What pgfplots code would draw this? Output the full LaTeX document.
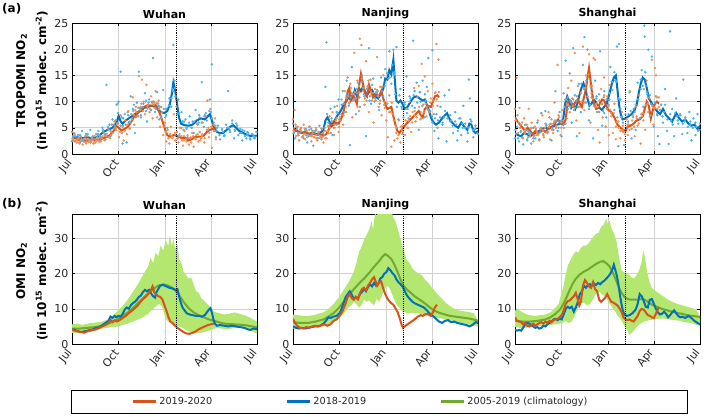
\documentclass[border=0pt]{standalone}
\usepackage{pgfplots}
\pgfplotsset{compat=1.18}
\usepackage{fontspec}
\setmainfont{DejaVu Sans}
\definecolor{cred}{RGB}{217,83,25}
\definecolor{cblue}{RGB}{0,114,189}
\definecolor{sred}{RGB}{243,140,82}
\definecolor{sblue}{RGB}{70,178,238}
\definecolor{cgreen}{RGB}{112,168,48}
\definecolor{bgreen}{RGB}{180,231,112}
\definecolor{txt}{RGB}{38,38,38}
\pgfplotsset{
  panel/.style={
    scale only axis, width=185pt, height=131pt,
    xmin=0, xmax=365,
    xtick={0,92,184,274,365},
    xticklabels={Jul,Oct,Jan,Apr,Jul},
    xticklabel shift=4pt,
    x tick label style={rotate=52, anchor=east, font=\fontsize{11}{12}\selectfont, text=txt},
    y tick label style={font=\fontsize{11}{12}\selectfont, text=txt},
    tick align=inside,
    major tick length=3pt,
    tick style={black, line width=0.6pt},
    grid=major,
    major grid style={black!18, line width=0.7pt},
    axis line style={black, line width=0.9pt},
    title style={font=\bfseries\fontsize{11}{12}\selectfont, yshift=-5pt},
    /pgf/number format/assume math mode=true,
    ylabel style={align=center, font=\bfseries\fontsize{12}{21}\selectfont, at={(ticklabel cs:0.56)}},
  },
  toprow/.style={panel, ymin=0, ymax=25, ytick={0,5,10,15,20,25}},
  botrow/.style={panel, height=130pt, ymin=0, ymax=37, ytick={0,10,20,30}},
  sc/.style={only marks, mark=*, mark size=1.0pt, forget plot},
  bl/.style={cblue, line width=2pt, forget plot},
  rl/.style={cred, line width=2pt, forget plot},
  gl/.style={cgreen, line width=2pt, forget plot},
  band/.style={fill=bgreen, draw=none, forget plot},
  lock/.style={black, densely dotted, line width=0.9pt, forget plot},
}
\begin{document}
\begin{tikzpicture}
\useasboundingbox (0,0) rectangle (709pt,416pt);
%================ (a) Wuhan TROPOMI
\begin{axis}[toprow, at={(72pt,262pt)}, anchor=south west, title={Wuhan},
  ylabel={TROPOMI NO\textsubscript{2}\\(in 10\textsuperscript{15} molec. cm\textsuperscript{-2})}]
\addplot[sc, sblue, mark options={fill=sblue, draw=sblue}] coordinates {
(0,2.4)(4,4.0)(8,2.6)(12,3.6)(16,2.2)(20,4.4)(24,2.8)(28,3.8)(32,2.4)(36,4.6)(40,3.0)(44,2.2)(48,3.8)(52,4.4)(56,2.6)(60,5.0)(64,3.6)(68,13.2)(72,4.8)(76,3.4)(80,6.6)(84,5.4)(88,9.4)(92,10.0)(96,15.7)(100,2.0)(104,7.6)(108,2.2)(112,6.0)(116,11.0)(120,8.6)(124,4.0)(128,9.8)(132,15.7)(136,7.0)(140,9.0)(144,11.6)(148,6.2)(152,10.4)(156,8.4)(160,18.3)(164,8.0)(168,11.8)(172,6.6)(176,9.0)(180,12.2)(184,7.0)(188,5.0)(192,10.6)(196,9.0)(200,20.8)(204,11.0)(208,7.6)(212,3.4)(216,8.0)(220,4.6)(224,6.6)(228,3.2)(232,7.2)(236,5.0)(240,4.0)(244,8.4)(248,5.6)(252,7.0)(256,13.7)(260,5.2)(264,7.8)(268,4.6)(272,10.4)(276,17.1)(280,6.0)(284,3.2)(288,5.4)(292,2.8)(296,4.8)(300,3.4)(304,5.6)(308,12.0)(312,4.2)(316,6.4)(320,3.0)(324,5.8)(328,3.6)(332,4.8)(336,2.6)(340,4.4)(344,3.0)(348,4.0)(352,2.8)(356,3.8)(360,3.0)(364,4.2)
(2,3.4)(14,3.0)(26,3.4)(38,2.6)(50,3.2)(62,4.2)(74,5.6)(86,6.4)(98,7.0)(110,8.0)(122,9.4)(134,8.8)(146,10.2)(158,9.8)(170,9.6)(186,8.6)(198,12.4)(202,14.0)(210,10.4)(218,6.2)(226,5.0)(238,6.2)(250,6.0)(262,7.4)(274,8.0)(286,4.4)(298,4.2)(310,5.0)(322,4.4)(334,4.0)(346,3.6)(358,3.4)
(1,2.6)(6,3.4)(11,2.8)(16,3.6)(21,2.6)(26,3.0)(31,3.8)(36,2.6)(41,3.4)(46,2.8)(51,3.8)(56,3.2)(61,4.6)(66,3.8)(71,5.2)(76,4.4)(81,5.6)(86,5.0)(91,7.8)(96,5.4)(101,6.8)(106,5.6)(111,7.4)(116,6.0)(121,8.2)(126,7.0)(131,8.8)(136,7.4)(141,9.6)(146,8.2)(151,9.8)(156,8.4)(161,10.0)(166,8.6)(171,9.2)(176,7.2)(181,8.6)(186,7.4)(191,9.2)(196,10.6)(199,12.0)(203,12.6)(206,9.0)(211,7.8)(216,5.0)(221,6.2)(226,4.8)(231,6.0)(236,5.0)(241,6.2)(246,5.8)(251,7.4)(256,6.0)(261,7.2)(266,6.4)(271,8.2)(276,6.8)(281,4.4)(286,5.0)(291,3.6)(296,4.6)(301,3.6)(306,5.0)(311,4.6)(316,5.8)(321,4.6)(326,5.4)(331,4.0)(336,4.6)(341,3.4)(346,4.2)(351,3.0)(356,3.8)(361,3.2)
};
\addplot[sc, sred, mark options={fill=sred, draw=sred}] coordinates {
(0,4.2)(3,2.8)(6,3.6)(9,2.2)(12,3.0)(15,2.0)(18,3.3)(21,1.8)(24,2.9)(27,2.2)(30,3.4)(33,2.3)(36,2.6)(39,3.1)(42,2.0)(45,3.4)(48,2.5)(51,2.9)(54,3.6)(57,2.4)(60,3.3)(63,4.0)(66,2.8)(69,3.9)(72,4.6)(75,3.0)(78,5.6)(81,4.0)(84,6.2)(87,4.6)(90,9.6)(93,3.2)(96,7.4)(99,4.0)(102,2.6)(105,6.4)(108,3.8)(111,8.2)(114,4.8)(117,7.6)(120,10.8)(123,5.6)(126,9.0)(129,7.2)(132,14.9)(135,8.4)(138,14.2)(141,10.0)(144,7.6)(147,13.2)(150,9.4)(153,8.0)(156,11.0)(159,6.8)(162,9.8)(165,12.0)(168,7.0)(171,10.2)(174,5.2)(177,8.0)(180,3.6)(183,6.0)(186,2.4)(189,4.6)(192,2.0)(195,5.2)(198,3.0)(201,7.6)(204,2.6)(207,4.2)(210,2.2)(213,5.0)(216,3.4)(219,1.6)(222,4.4)(225,2.8)(228,3.6)(231,1.8)(234,3.2)(237,4.0)(240,1.4)(243,3.0)(246,5.8)(249,2.4)(252,4.2)(255,3.0)(258,6.0)(261,2.2)(264,7.2)(267,10.2)(270,3.2)(273,8.6)(276,1.2)(279,5.6)(282,6.8)(284,2.8)
(5,2.4)(17,2.6)(29,2.8)(41,2.6)(53,2.4)(65,3.4)(77,3.6)(89,5.8)(101,5.4)(113,6.2)(125,8.4)(137,9.6)(149,8.6)(161,9.4)(173,9.0)(185,4.0)(197,3.4)(209,3.0)(221,2.6)(233,3.0)(245,3.6)(257,3.4)(269,5.0)(281,4.4)
(1,3.0)(5,3.8)(10,2.6)(14,2.2)(19,2.8)(23,2.4)(28,2.0)(32,2.8)(37,2.2)(41,2.8)(46,2.2)(50,3.2)(55,2.4)(59,3.0)(64,2.6)(68,3.4)(73,3.2)(77,4.2)(82,4.8)(86,5.0)(91,5.8)(95,4.2)(100,5.2)(104,4.4)(109,5.6)(113,5.0)(118,6.6)(122,7.4)(127,8.0)(131,7.2)(136,9.0)(140,8.2)(145,10.0)(149,9.0)(154,8.6)(158,10.0)(163,8.8)(167,9.8)(172,8.6)(176,6.8)(181,5.2)(185,4.2)(190,3.0)(194,3.8)(199,3.2)(203,4.0)(208,3.0)(212,3.8)(217,2.6)(221,3.4)(226,2.4)(230,3.0)(235,2.2)(239,3.4)(244,2.8)(248,3.8)(253,2.6)(257,3.8)(262,3.0)(266,4.6)(271,4.0)(275,5.2)(280,4.4)(283,5.4)
};
\addplot[bl] coordinates {(0,3.0)(10,3.2)(20,3.0)(30,3.2)(40,3.0)(50,3.3)(55,3.6)(62,4.2)(70,4.6)(80,5.0)(88,6.0)(92,7.3)(96,6.2)(100,5.8)(106,6.4)(112,6.8)(118,7.2)(124,7.6)(130,8.0)(136,8.2)(142,8.8)(150,9.0)(158,9.2)(165,9.0)(170,8.4)(176,8.0)(182,7.8)(188,8.2)(193,9.5)(197,11.5)(200,13.7)(203,12.5)(207,9.8)(211,7.0)(215,5.8)(222,5.5)(230,5.4)(238,5.6)(246,6.4)(254,6.8)(262,6.6)(268,7.2)(272,7.6)(276,6.4)(280,5.0)(286,4.2)(292,4.0)(298,4.0)(305,4.6)(312,5.2)(318,5.5)(324,5.0)(330,4.4)(338,4.0)(346,3.6)(355,3.4)(365,3.5)};
\addplot[rl] coordinates {(0,3.4)(8,3.0)(15,2.6)(25,2.5)(35,2.6)(45,2.7)(55,2.8)(65,3.1)(75,3.6)(82,4.4)(88,5.3)(92,5.0)(98,4.5)(104,4.8)(110,5.2)(116,6.0)(122,7.0)(128,7.6)(134,8.3)(140,8.8)(146,9.2)(152,9.3)(158,9.2)(164,9.4)(168,9.0)(172,8.0)(176,7.0)(180,5.8)(184,4.6)(188,3.6)(194,3.3)(200,3.6)(206,3.5)(212,3.2)(218,3.0)(224,3.1)(230,2.6)(236,2.8)(242,3.2)(248,3.3)(254,3.3)(260,3.5)(266,4.2)(272,4.6)(278,4.8)(284,4.9)};
\addplot[lock] coordinates {(206,0)(206,25)};
\end{axis}
%================ (a) Nanjing TROPOMI
\begin{axis}[toprow, at={(293pt,262pt)}, anchor=south west, title={Nanjing}]
\addplot[sc, sblue, mark options={fill=sblue, draw=sblue}] coordinates {
(0,5.8)(4,3.0)(8,4.8)(12,2.6)(16,5.0)(20,3.4)(24,4.6)(28,2.2)(32,5.2)(36,3.6)(40,1.6)(44,4.4)(48,3.0)(52,5.4)(56,2.8)(60,4.0)(64,12.8)(66,21.3)(70,6.0)(74,8.6)(78,3.6)(82,9.0)(86,5.6)(90,10.4)(94,6.4)(98,12.0)(102,8.0)(106,14.0)(110,9.2)(112,1.7)(116,16.6)(120,11.4)(124,7.6)(128,13.6)(132,9.0)(136,15.0)(140,11.4)(144,3.4)(148,13.0)(150,20.2)(154,9.6)(158,14.4)(162,10.6)(166,12.2)(170,8.4)(174,14.6)(178,11.0)(182,16.2)(186,9.6)(190,19.6)(194,13.4)(198,19.9)(202,11.4)(204,20.4)(208,6.6)(212,12.4)(216,3.8)(220,9.4)(224,14.8)(228,6.8)(232,10.6)(237,21.6)(240,8.8)(244,13.6)(248,4.6)(252,10.0)(256,14.0)(260,7.0)(264,12.8)(267,18.3)(271,8.2)(275,19.8)(279,4.4)(283,7.6)(287,3.0)(291,9.0)(295,5.6)(299,11.2)(303,2.4)(308,12.2)(312,6.4)(316,4.0)(320,8.0)(324,2.6)(328,6.8)(332,3.6)(336,9.2)(340,5.0)(344,2.4)(347,14.2)(349,10.6)(352,6.2)(356,3.2)(360,5.4)(364,4.0)
(2,4.2)(14,4.0)(26,3.6)(38,4.4)(50,3.8)(62,5.0)(76,6.8)(88,7.8)(100,9.6)(114,10.8)(126,11.6)(138,12.6)(152,11.0)(164,11.8)(176,12.0)(188,14.4)(200,15.6)(214,9.0)(226,8.6)(238,11.2)(250,11.8)(262,10.2)(274,7.2)(286,6.4)(298,7.0)(310,6.2)(322,5.6)(334,5.8)(346,5.0)(358,4.6)
(1,4.0)(6,5.2)(11,3.6)(16,4.4)(21,3.0)(26,4.8)(31,3.4)(36,4.8)(41,3.2)(46,4.6)(51,3.0)(56,4.8)(61,3.6)(67,7.6)(71,5.2)(76,6.2)(81,5.0)(86,8.0)(91,6.6)(96,9.4)(101,8.0)(106,11.2)(111,9.6)(116,11.6)(121,10.4)(126,12.4)(131,10.8)(136,13.8)(141,11.0)(146,12.4)(151,10.2)(156,13.2)(161,10.0)(166,11.6)(171,9.6)(176,12.8)(181,13.0)(186,15.4)(191,14.6)(196,17.0)(200,15.2)(205,9.0)(210,11.2)(215,8.6)(220,9.8)(225,7.8)(230,11.0)(235,9.2)(240,12.0)(245,9.8)(250,11.8)(255,9.2)(260,11.4)(265,8.6)(270,8.0)(275,6.0)(280,6.8)(285,5.0)(290,7.0)(295,6.0)(300,8.2)(305,6.8)(310,7.4)(315,5.4)(320,6.2)(325,4.4)(330,6.8)(335,5.0)(340,5.8)(345,4.0)(350,6.6)(355,4.6)(360,4.8)(365,3.8)
};
\addplot[sc, sred, mark options={fill=sred, draw=sred}] coordinates {
(0,6.6)(3,8.4)(6,3.4)(9,5.2)(12,2.6)(15,4.8)(18,3.2)(21,5.6)(24,2.8)(27,4.4)(30,3.6)(33,5.2)(36,2.4)(39,4.0)(42,3.2)(45,5.0)(48,2.6)(51,4.2)(54,3.4)(57,4.8)(60,2.2)(63,4.4)(66,3.0)(69,5.4)(72,7.2)(75,4.0)(78,8.0)(81,3.6)(84,6.4)(87,9.2)(90,4.2)(93,7.0)(96,10.4)(99,5.6)(102,12.0)(105,8.0)(108,14.6)(111,9.8)(114,12.6)(117,7.0)(121,19.3)(124,10.6)(127,14.0)(130,8.2)(132,22.0)(135,20.8)(138,12.0)(141,9.4)(144,17.7)(147,12.8)(150,8.0)(153,14.2)(156,10.2)(159,6.0)(162,12.4)(166,18.5)(169,9.0)(172,12.8)(175,7.4)(178,15.0)(181,10.0)(184,6.4)(187,3.2)(190,11.2)(194,1.4)(197,7.6)(200,2.6)(203,5.4)(206,3.0)(209,6.4)(212,2.2)(215,4.6)(218,7.0)(221,3.6)(224,8.6)(227,5.0)(230,10.0)(233,4.2)(236,8.0)(239,12.6)(242,6.2)(245,10.8)(248,13.0)(251,6.6)(254,17.2)(257,9.4)(260,14.8)(263,7.2)(266,12.0)(269,8.0)(272,10.6)(275,13.4)(278,7.6)(281,11.8)(283,21.0)(285,9.2)(287,18.0)
(10,4.0)(22,3.8)(34,3.4)(46,3.6)(58,3.2)(70,4.0)(82,5.6)(94,6.4)(106,10.6)(118,11.4)(130,13.0)(142,10.6)(154,11.8)(168,11.0)(180,9.4)(192,8.0)(204,4.0)(216,5.4)(228,6.4)(240,7.4)(252,8.0)(264,9.0)(276,10.2)
(1,4.4)(5,5.6)(10,3.6)(14,4.6)(19,3.4)(23,4.8)(28,3.2)(32,4.6)(37,3.4)(41,4.4)(46,3.0)(50,4.2)(55,3.2)(59,4.0)(64,3.0)(68,4.4)(73,5.0)(77,6.2)(82,5.0)(86,6.8)(91,5.2)(95,7.6)(100,7.4)(104,9.0)(109,11.0)(113,13.4)(118,10.2)(122,11.8)(127,9.0)(131,11.8)(136,14.4)(140,12.6)(145,10.2)(149,14.0)(154,11.2)(158,11.6)(163,10.2)(167,12.0)(172,10.2)(176,12.8)(181,8.8)(185,9.6)(190,8.0)(195,9.8)(199,6.4)(204,5.0)(208,3.6)(213,5.2)(217,4.2)(222,6.4)(226,5.0)(231,7.2)(235,6.0)(240,8.2)(244,7.0)(249,9.0)(253,6.8)(258,8.0)(262,9.6)(267,8.4)(271,9.8)(276,9.2)(280,11.6)(284,10.4)(288,11.8)
};
\addplot[bl] coordinates {(0,4.6)(8,4.4)(16,4.0)(24,4.2)(32,3.8)(40,4.0)(48,3.8)(56,4.2)(60,4.6)(64,6.4)(68,7.0)(72,6.2)(76,5.4)(82,6.4)(88,7.4)(94,8.2)(100,9.4)(106,10.2)(110,11.0)(114,10.2)(118,10.8)(122,12.2)(126,11.0)(130,12.6)(134,12.0)(138,12.8)(142,12.0)(146,11.2)(150,11.8)(156,12.2)(162,11.0)(168,10.6)(174,11.6)(178,12.4)(182,14.4)(186,14.2)(190,16.0)(194,15.2)(198,18.0)(201,14.0)(204,10.2)(208,9.8)(212,10.2)(216,9.6)(220,8.6)(226,9.0)(232,10.0)(238,10.8)(244,11.0)(250,10.6)(256,10.2)(260,10.4)(264,9.4)(268,8.4)(272,7.0)(276,6.2)(282,5.6)(288,6.0)(294,6.8)(300,7.4)(304,7.8)(308,6.8)(314,6.0)(320,5.4)(326,5.0)(332,6.0)(338,5.2)(344,4.6)(348,5.8)(352,5.6)(356,4.4)(360,4.0)(365,4.4)};
\addplot[rl] coordinates {(0,5.0)(6,4.4)(12,4.2)(18,4.0)(24,4.2)(30,3.8)(36,4.0)(42,3.8)(48,3.6)(54,3.8)(60,3.5)(66,3.8)(70,4.6)(74,5.6)(78,5.4)(84,6.0)(90,5.8)(96,7.0)(100,8.2)(104,10.0)(108,12.0)(111,12.6)(114,10.4)(118,11.2)(122,10.6)(126,9.6)(130,12.8)(134,15.3)(138,13.4)(142,11.6)(146,11.0)(150,13.2)(154,12.0)(158,10.8)(164,11.4)(170,11.0)(174,12.0)(178,10.6)(182,9.6)(186,8.6)(190,8.8)(194,9.0)(198,7.2)(202,5.6)(206,4.4)(210,4.0)(214,4.6)(218,5.0)(224,5.8)(230,6.4)(236,7.0)(242,7.6)(248,8.2)(252,7.4)(256,7.0)(260,8.6)(266,9.2)(272,9.0)(276,10.0)(280,11.0)(285,11.2)(288,10.8)};
\addplot[lock] coordinates {(217,0)(217,25)};
\end{axis}
%================ (a) Shanghai TROPOMI
\begin{axis}[toprow, at={(515pt,262pt)}, anchor=south west, title={Shanghai}]
\addplot[sc, sblue, mark options={fill=sblue, draw=sblue}] coordinates {
(0,3.0)(4,5.2)(8,2.4)(12,4.4)(16,1.8)(20,5.6)(24,2.6)(28,4.0)(32,2.0)(36,5.0)(40,3.0)(44,6.0)(48,2.8)(52,7.8)(56,3.6)(60,8.2)(64,4.2)(68,7.0)(72,2.6)(76,5.8)(80,12.0)(84,4.4)(88,8.0)(92,3.4)(96,11.6)(100,17.8)(104,8.6)(108,15.4)(112,6.0)(115,20.2)(118,11.2)(122,3.4)(126,13.4)(130,8.0)(134,17.0)(137,22.3)(140,9.8)(143,19.9)(146,6.4)(150,12.6)(154,3.0)(158,14.0)(162,8.0)(166,11.4)(168,19.6)(172,5.4)(176,12.0)(180,7.0)(184,9.4)(188,16.6)(192,12.2)(196,8.4)(201,20.5)(204,1.5)(205,21.0)(208,10.4)(212,4.4)(215,1.7)(218,9.0)(222,5.0)(226,11.8)(230,3.0)(234,8.6)(238,4.6)(242,13.6)(246,6.8)(250,16.0)(253,9.0)(255,24.5)(256,22.4)(260,11.8)(263,19.9)(266,7.2)(270,18.6)(274,5.2)(278,11.0)(282,3.4)(285,1.9)(288,9.4)(292,6.0)(296,12.4)(300,4.4)(303,1.9)(306,23.4)(310,8.6)(314,3.4)(318,10.6)(322,5.8)(326,7.4)(330,3.8)(332,14.2)(336,6.6)(340,4.0)(344,8.0)(348,2.6)(352,6.8)(356,3.6)(360,7.6)(364,4.6)
(2,3.8)(14,3.2)(26,4.4)(38,3.6)(50,4.2)(62,5.4)(74,5.0)(86,6.2)(98,9.0)(110,10.2)(124,9.0)(136,12.6)(148,9.4)(160,10.6)(174,8.2)(186,10.4)(198,14.0)(210,7.0)(224,7.6)(236,8.0)(248,12.4)(258,13.0)(268,9.6)(280,7.6)(294,8.0)(308,6.4)(320,7.2)(334,6.2)(346,5.6)(358,5.2)
(1,4.6)(6,3.0)(11,4.2)(16,3.0)(21,4.6)(26,3.2)(31,4.0)(36,3.0)(41,4.8)(46,3.8)(51,5.0)(56,4.4)(61,5.6)(66,4.2)(71,5.8)(76,4.6)(81,6.2)(86,5.0)(91,6.4)(96,5.6)(101,10.4)(106,9.2)(111,9.8)(116,8.4)(121,10.2)(126,9.0)(131,13.4)(136,12.4)(141,14.0)(146,8.6)(151,10.8)(156,9.2)(161,11.0)(166,8.0)(171,9.6)(176,7.8)(181,10.4)(186,11.6)(191,13.8)(196,15.6)(200,13.8)(204,10.6)(208,8.6)(213,6.0)(218,7.6)(223,6.2)(228,8.2)(233,7.0)(238,9.4)(243,10.4)(248,14.2)(252,13.0)(257,15.6)(261,11.4)(266,11.2)(271,9.2)(276,9.8)(281,7.4)(286,8.4)(291,7.2)(296,9.4)(301,6.6)(306,7.6)(311,5.6)(316,7.8)(321,6.4)(326,7.6)(331,5.8)(336,7.0)(341,5.2)(346,6.2)(351,5.0)(356,6.0)(361,4.4)(365,5.8)
};
\addplot[sc, sred, mark options={fill=sred, draw=sred}] coordinates {
(0,8.6)(3,14.5)(6,4.0)(9,8.8)(12,5.6)(15,3.0)(18,6.8)(21,4.6)(24,2.8)(27,8.6)(30,3.4)(33,6.0)(36,2.4)(39,5.2)(42,3.6)(45,6.4)(48,2.6)(51,4.8)(54,7.4)(57,3.2)(60,5.8)(63,4.2)(66,8.0)(69,2.8)(72,6.6)(75,4.0)(78,9.8)(81,5.0)(84,17.0)(87,7.0)(90,3.6)(93,8.4)(96,5.0)(99,10.4)(102,6.8)(105,12.6)(108,8.0)(111,14.0)(114,9.2)(118,19.3)(121,6.4)(124,13.0)(127,4.0)(130,11.6)(134,20.5)(137,8.4)(140,15.0)(143,11.0)(146,19.0)(149,6.0)(152,13.0)(155,18.3)(158,18.0)(161,9.6)(164,4.6)(167,2.2)(170,12.4)(173,7.0)(176,14.6)(179,5.2)(182,11.0)(185,3.6)(187,13.2)(190,7.8)(193,4.0)(196,9.6)(199,2.8)(202,7.0)(205,5.0)(208,3.0)(211,8.0)(214,4.2)(217,2.6)(220,6.6)(223,3.6)(227,12.0)(230,4.8)(233,7.4)(236,3.4)(239,9.0)(242,5.4)(245,11.2)(248,2.0)(251,7.2)(254,12.4)(257,4.6)(260,14.0)(263,8.0)(266,10.6)(270,18.0)(273,5.6)(276,16.4)(278,15.0)(281,8.6)(284,10.8)
(7,6.0)(19,4.4)(31,4.8)(43,4.2)(55,4.6)(67,5.2)(79,6.4)(91,6.0)(103,9.4)(115,10.4)(128,9.0)(139,12.6)(151,11.6)(163,9.0)(175,10.8)(188,8.4)(200,6.0)(212,4.6)(224,5.6)(240,6.8)(252,7.8)(262,9.6)(274,8.8)
(1,6.4)(5,7.4)(10,5.0)(14,6.0)(19,4.0)(23,5.6)(28,3.8)(32,5.0)(37,3.4)(41,4.8)(46,3.6)(50,4.8)(55,3.8)(59,5.0)(64,4.0)(68,5.6)(73,4.6)(77,6.2)(82,5.4)(86,7.4)(91,5.0)(95,6.4)(100,5.8)(104,10.8)(109,9.0)(113,10.6)(118,8.8)(122,11.0)(127,9.0)(131,10.0)(136,9.8)(140,13.4)(145,15.2)(149,13.0)(154,10.6)(158,9.0)(163,8.0)(167,10.2)(172,9.6)(176,11.2)(181,8.6)(185,9.2)(190,7.2)(195,7.8)(199,5.2)(204,6.2)(208,4.4)(213,5.4)(217,3.8)(222,5.6)(226,4.6)(231,6.4)(235,5.2)(240,7.2)(244,5.8)(249,7.6)(253,6.4)(258,9.4)(262,10.8)(267,7.4)(271,9.2)(276,8.8)(280,10.8)(284,9.0)
};
\addplot[bl] coordinates {(0,4.0)(6,3.6)(12,3.4)(18,4.0)(24,3.8)(30,3.4)(36,3.8)(42,4.2)(48,4.4)(54,4.8)(60,5.0)(66,4.8)(72,5.2)(78,5.4)(84,5.6)(90,5.8)(95,6.6)(99,9.6)(103,11.0)(107,10.0)(111,8.8)(115,9.4)(119,8.6)(123,9.6)(127,11.2)(131,12.6)(135,13.5)(139,12.4)(143,10.6)(147,9.2)(151,9.6)(155,10.4)(159,10.0)(165,9.0)(171,8.4)(176,9.0)(181,9.6)(185,11.0)(190,13.0)(195,14.6)(199,15.0)(202,12.4)(205,9.6)(208,7.8)(212,6.6)(218,6.8)(224,7.2)(230,7.6)(236,8.4)(240,9.4)(244,11.6)(248,13.4)(252,14.6)(256,14.2)(260,12.6)(264,10.6)(268,10.0)(274,9.0)(280,8.2)(286,7.6)(292,8.6)(298,7.4)(304,6.8)(310,6.2)(314,7.0)(318,7.8)(324,6.8)(330,6.2)(336,6.6)(342,5.8)(348,5.4)(354,5.6)(360,4.8)(365,5.4)};
\addplot[rl] coordinates {(0,7.0)(5,6.2)(10,5.6)(15,5.0)(20,4.4)(25,5.0)(30,4.4)(35,3.8)(40,4.4)(45,4.0)(50,4.2)(55,4.6)(60,4.2)(65,4.8)(70,5.0)(75,5.4)(80,6.0)(85,6.6)(90,5.8)(95,5.6)(100,6.6)(104,9.8)(108,10.2)(112,9.6)(116,9.4)(120,10.0)(124,10.4)(128,9.6)(132,9.0)(136,10.8)(140,12.4)(143,14.6)(146,16.4)(149,14.0)(152,11.6)(156,9.6)(160,8.6)(164,8.8)(168,9.8)(172,10.4)(176,10.2)(180,9.2)(184,8.4)(190,8.0)(196,7.0)(202,5.6)(208,5.0)(214,4.6)(218,4.4)(222,5.2)(228,5.4)(234,5.8)(240,6.4)(246,6.6)(252,7.2)(256,8.6)(260,10.0)(264,9.2)(268,6.8)(272,8.4)(276,9.6)(280,10.0)(284,9.6)};
\addplot[lock] coordinates {(217,0)(217,25)};
\end{axis}
%================ (b) Wuhan OMI
\begin{axis}[botrow, at={(72pt,72pt)}, anchor=south west, title={Wuhan},
  ylabel={OMI NO\textsubscript{2}\\(in 10\textsuperscript{15} molec. cm\textsuperscript{-2})},
  legend style={draw=none, fill=none, inner xsep=0pt, inner ysep=0pt, anchor=west, at={(0.324,-0.442)},
    font=\fontsize{9.7}{11}\selectfont, text=txt, legend cell align=left,
    /tikz/every even column/.append style={column sep=72pt}},
  legend columns=3,
  legend image code/.code={\draw[#1] (0pt,0pt) -- (23pt,0pt);}]
\addlegendimage{cred, line width=2.2pt}\addlegendentry{2019-2020}
\addlegendimage{cblue, line width=2.2pt}\addlegendentry{2018-2019}
\addlegendimage{cgreen, line width=2.2pt}\addlegendentry{2005-2019 (climatology)}
\addplot[band] coordinates {(0,5.6)(10,5.8)(20,5.4)(30,5.8)(40,6.0)(50,6.2)(60,6.4)(70,7.0)(80,8.0)(90,9.4)(100,10.8)(110,12.6)(120,14.8)(130,17.0)(140,19.6)(150,22.0)(155,24.6)(160,23.0)(165,26.0)(170,25.0)(175,28.0)(180,26.6)(185,29.6)(190,27.8)(193,31.0)(197,28.0)(200,30.0)(204,27.0)(208,28.4)(212,24.0)(216,23.0)(220,20.6)(225,19.6)(230,18.6)(235,19.0)(240,17.0)(245,15.0)(250,14.6)(255,13.0)(260,12.4)(265,11.6)(270,11.0)(275,10.0)(280,9.2)(290,8.8)(300,8.4)(310,8.6)(320,9.0)(330,8.6)(340,8.2)(350,7.6)(360,6.8)(365,6.4)
(365,3.0)(355,3.6)(345,4.2)(335,4.6)(325,4.6)(315,4.4)(305,4.2)(295,4.4)(285,4.6)(275,4.0)(265,3.6)(255,3.2)(245,3.0)(235,3.2)(225,4.0)(215,4.8)(205,5.2)(198,5.8)(192,6.2)(187,6.8)(183,8.0)(178,10.6)(172,11.4)(165,10.6)(160,10.0)(150,8.6)(140,7.6)(130,7.0)(120,6.4)(110,5.8)(100,5.4)(90,5.0)(80,4.8)(70,4.6)(60,4.4)(50,4.0)(40,3.6)(30,3.4)(20,3.2)(10,3.0)(0,3.2)};
\addplot[gl] coordinates {(0,4.4)(15,4.4)(30,4.6)(45,4.8)(60,5.2)(75,6.0)(90,7.0)(100,8.0)(110,9.0)(120,10.2)(130,11.6)(140,13.0)(150,14.4)(160,15.6)(170,16.6)(180,17.0)(190,16.6)(200,15.8)(210,14.2)(220,12.0)(230,10.2)(240,9.0)(250,8.2)(260,7.6)(270,7.0)(280,6.6)(290,6.2)(300,5.8)(320,5.6)(340,5.4)(355,5.0)(365,4.8)};
\addplot[bl] coordinates {(0,4.2)(6,3.9)(12,3.6)(18,3.4)(24,3.6)(30,3.8)(36,4.0)(42,4.2)(48,4.6)(54,4.8)(60,5.4)(66,6.0)(72,6.6)(76,7.8)(80,7.4)(84,8.0)(88,7.6)(92,8.0)(96,7.8)(100,8.6)(104,9.8)(108,10.4)(112,10.0)(116,11.0)(120,11.6)(124,12.0)(128,12.6)(132,13.4)(136,13.8)(140,14.8)(144,15.4)(148,15.0)(152,15.4)(156,14.4)(160,13.6)(164,13.2)(166,14.6)(170,15.6)(174,16.6)(180,16.8)(186,16.4)(192,16.0)(198,15.8)(204,15.4)(208,15.6)(212,13.2)(215,11.6)(218,10.4)(222,9.6)(226,8.8)(232,8.4)(238,8.2)(244,8.0)(250,8.0)(256,7.8)(262,8.2)(266,9.0)(270,9.8)(273,10.2)(276,9.0)(279,7.0)(282,5.8)(286,5.2)(292,5.4)(300,5.2)(308,5.0)(316,5.2)(324,5.0)(332,4.8)(340,4.6)(346,4.2)(352,4.0)(358,4.4)(365,4.2)};
\addplot[rl] coordinates {(0,4.0)(6,3.8)(12,3.6)(18,3.4)(24,3.2)(30,3.6)(36,3.8)(42,4.0)(48,4.2)(54,4.6)(60,5.0)(66,5.4)(72,6.0)(76,6.8)(80,6.2)(84,6.8)(88,6.4)(92,6.6)(96,7.0)(100,7.4)(106,8.0)(112,8.8)(118,9.4)(124,10.2)(130,11.0)(136,12.2)(142,13.0)(148,13.8)(152,14.6)(156,15.4)(159,16.4)(162,14.8)(166,14.2)(170,13.6)(174,13.4)(178,12.8)(182,11.2)(186,9.6)(190,7.8)(194,6.4)(198,6.0)(202,5.4)(208,4.6)(214,4.0)(220,3.4)(226,3.0)(232,2.9)(238,3.2)(244,3.6)(250,4.2)(256,4.6)(262,5.0)(268,5.4)(274,5.6)(280,5.8)};
\addplot[lock] coordinates {(206,0)(206,37)};
\end{axis}
%================ (b) Nanjing OMI
\begin{axis}[botrow, at={(293pt,72pt)}, anchor=south west, title={Nanjing}]
\addplot[band] coordinates {(0,8.4)(10,8.2)(20,8.0)(30,8.0)(40,8.2)(50,8.6)(60,9.0)(70,10.0)(80,11.4)(90,13.2)(100,15.4)(110,17.6)(118,20.0)(124,22.4)(130,26.0)(135,27.6)(140,29.6)(145,31.0)(150,32.4)(155,35.0)(158,32.6)(162,37.5)(165,36.4)(170,38)(175,37.5)(180,39)(185,38)(190,37.6)(194,38.0)(198,36.0)(202,35.0)(206,33.0)(212,30.0)(218,27.0)(224,24.0)(230,23.0)(236,21.4)(242,20.6)(248,20.0)(254,19.6)(260,18.4)(266,17.6)(272,16.4)(278,15.4)(284,14.4)(290,13.4)(296,12.6)(302,11.6)(310,10.8)(318,10.0)(326,9.6)(334,9.4)(342,9.2)(350,9.0)(356,8.8)(360,8.0)(365,6.4)
(365,5.0)(355,5.2)(345,5.6)(335,6.0)(325,6.2)(315,6.6)(305,7.0)(295,7.2)(285,7.4)(275,7.6)(265,8.0)(255,8.4)(245,8.8)(235,8.8)(225,8.8)(215,9.4)(208,10.6)(202,11.8)(196,14.0)(190,16.0)(185,16.6)(180,15.4)(175,13.6)(170,12.0)(165,12.8)(160,11.0)(155,11.6)(150,12.4)(145,12.0)(140,12.6)(135,11.0)(130,10.4)(125,11.4)(120,12.0)(115,11.0)(110,10.4)(100,8.6)(90,7.4)(80,6.2)(70,5.4)(60,5.0)(50,4.8)(40,4.6)(30,4.4)(20,4.4)(10,4.4)(0,4.4)};
\addplot[gl] coordinates {(0,6.2)(15,6.0)(30,6.0)(45,6.4)(60,7.0)(70,7.8)(80,8.8)(90,10.2)(100,12.0)(110,13.8)(120,15.6)(130,17.2)(140,18.6)(150,20.2)(160,22.0)(170,23.6)(176,24.8)(182,25.6)(188,25.0)(194,24.2)(200,22.6)(206,20.6)(212,18.4)(218,16.6)(224,15.6)(232,14.6)(240,13.6)(250,12.6)(260,11.6)(270,10.4)(280,9.4)(290,8.8)(300,8.4)(310,8.0)(320,7.8)(330,7.6)(340,7.4)(350,7.2)(360,6.8)(365,6.6)};
\addplot[bl] coordinates {(0,5.0)(6,4.6)(12,4.4)(18,4.6)(24,4.4)(30,4.6)(36,4.8)(42,5.0)(48,5.0)(54,5.2)(60,5.8)(66,6.8)(70,7.6)(74,7.4)(80,7.8)(86,8.0)(92,8.8)(96,10.0)(100,11.8)(104,13.4)(108,14.2)(112,15.0)(116,14.0)(120,12.8)(124,13.4)(128,12.8)(132,14.2)(136,14.8)(140,15.6)(144,15.0)(148,16.2)(152,17.0)(156,16.4)(160,17.4)(164,16.6)(168,17.0)(172,18.6)(176,19.0)(180,20.0)(184,20.4)(188,21.6)(192,21.0)(196,20.2)(200,19.6)(204,18.4)(208,17.6)(212,17.0)(216,16.4)(220,15.2)(224,14.0)(228,13.2)(232,12.6)(236,12.0)(240,11.6)(246,11.2)(252,10.8)(258,10.4)(264,9.6)(270,8.6)(276,8.0)(282,7.2)(288,6.4)(294,6.0)(300,6.6)(306,6.8)(312,6.2)(318,6.4)(324,6.0)(330,5.8)(336,5.6)(342,5.4)(348,5.0)(354,5.4)(360,6.2)(365,6.0)};
\addplot[rl] coordinates {(0,7.2)(4,6.0)(8,5.2)(14,4.6)(20,4.4)(26,4.8)(32,4.6)(38,5.0)(44,5.2)(50,5.0)(56,5.4)(62,5.6)(68,5.2)(74,5.6)(80,6.6)(86,7.0)(92,8.0)(98,9.4)(104,11.6)(108,13.4)(112,14.2)(116,13.0)(120,12.6)(124,13.4)(128,12.8)(132,14.4)(136,15.6)(140,16.0)(144,15.2)(148,16.6)(152,17.4)(156,18.4)(160,19.0)(163,17.8)(166,16.6)(170,17.6)(174,17.8)(178,15.8)(182,14.2)(186,13.0)(190,12.2)(194,11.6)(198,11.2)(202,10.2)(206,9.2)(210,7.6)(214,5.6)(217,4.6)(222,5.2)(228,5.8)(234,6.4)(240,7.0)(246,7.8)(252,8.2)(256,8.0)(260,8.4)(266,8.6)(272,8.0)(276,9.0)(280,10.4)(284,11.2)};
\addplot[lock] coordinates {(217,0)(217,37)};
\end{axis}
%================ (b) Shanghai OMI
\begin{axis}[botrow, at={(515pt,72pt)}, anchor=south west, title={Shanghai}]
\addplot[band] coordinates {(0,9.4)(4,10.2)(10,9.4)(20,8.6)(30,8.2)(40,8.0)(50,8.2)(60,8.4)(70,9.0)(80,10.4)(86,11.4)(90,13.6)(95,16.0)(100,19.8)(105,22.6)(110,24.0)(115,25.4)(120,26.4)(125,26.0)(130,27.4)(135,28.0)(140,28.0)(145,28.6)(150,29.6)(155,30.6)(160,31.4)(165,31.6)(170,33.4)(175,34.0)(180,35.6)(183,34.2)(187,35.0)(190,33.0)(195,31.6)(200,29.4)(205,25.0)(210,21.0)(215,20.4)(220,20.0)(225,19.8)(230,19.0)(235,18.6)(240,19.6)(245,21.0)(250,23.4)(253,26.6)(256,25.0)(260,21.0)(265,17.8)(270,16.0)(280,14.8)(290,13.8)(300,12.8)(310,12.0)(320,11.4)(330,11.0)(340,10.6)(350,10.2)(358,9.6)(365,8.0)
(365,5.2)(355,5.6)(345,6.0)(335,6.2)(325,6.6)(315,6.8)(305,7.0)(295,7.2)(285,7.2)(275,7.0)(265,6.8)(255,6.4)(245,5.6)(238,4.4)(232,3.4)(226,2.6)(220,4.2)(214,5.6)(208,7.2)(202,8.2)(196,9.6)(190,10.8)(184,12.0)(178,13.6)(172,14.0)(166,15.0)(160,14.4)(154,12.8)(148,11.4)(142,11.0)(136,11.8)(130,11.6)(124,10.0)(118,8.0)(112,6.4)(106,6.0)(100,6.6)(94,6.0)(88,5.8)(80,5.6)(70,5.4)(60,5.2)(50,5.0)(40,5.0)(30,4.8)(20,4.6)(10,4.6)(0,4.8)};
\addplot[gl] coordinates {(0,6.6)(15,6.4)(30,6.4)(45,6.6)(60,7.0)(70,7.6)(80,8.6)(90,10.0)(96,11.6)(102,13.4)(108,15.4)(114,17.2)(120,18.6)(128,19.8)(136,20.6)(144,21.2)(152,22.0)(160,22.8)(168,23.4)(174,23.6)(180,23.0)(186,22.2)(192,20.6)(198,18.6)(204,16.4)(210,14.6)(216,13.4)(222,12.8)(230,12.6)(240,12.6)(250,12.8)(256,12.6)(262,12.0)(270,11.2)(280,10.6)(290,10.0)(300,9.6)(310,9.2)(320,8.8)(330,8.6)(340,8.2)(350,8.0)(360,7.8)(365,7.6)};
\addplot[bl] coordinates {(0,4.0)(4,3.8)(8,4.0)(12,3.8)(16,4.6)(20,5.6)(24,6.0)(28,5.8)(32,5.4)(36,5.0)(40,4.6)(44,4.8)(48,4.4)(52,4.6)(56,5.2)(60,5.0)(64,5.6)(68,6.0)(72,6.4)(76,7.0)(80,7.2)(84,6.8)(88,7.2)(92,7.0)(96,8.4)(100,10.0)(104,10.6)(108,10.2)(112,10.6)(116,9.2)(120,10.4)(124,12.0)(128,14.2)(132,15.0)(136,16.6)(140,16.0)(144,16.8)(148,17.0)(152,16.6)(156,17.2)(160,16.8)(164,17.4)(168,17.0)(172,17.6)(176,18.0)(180,18.6)(184,19.2)(188,20.0)(192,21.2)(195,22.6)(198,21.0)(201,19.4)(204,17.0)(207,14.0)(210,11.4)(213,9.4)(216,8.4)(220,8.0)(226,8.2)(232,8.8)(238,9.8)(242,11.4)(246,14.2)(250,13.6)(254,12.2)(258,10.6)(262,10.4)(266,12.6)(270,12.8)(274,11.4)(278,10.0)(282,9.0)(286,8.4)(290,8.6)(294,9.2)(298,8.6)(302,7.6)(306,8.2)(310,9.0)(314,9.6)(318,8.8)(322,8.0)(326,7.6)(330,7.8)(336,7.4)(342,8.0)(348,7.4)(354,6.6)(360,6.0)(365,5.6)};
\addplot[rl] coordinates {(0,7.6)(4,6.6)(8,6.4)(12,6.2)(16,5.6)(20,6.0)(24,5.2)(28,5.0)(32,5.4)(36,5.8)(40,5.2)(44,5.6)(48,6.0)(52,6.2)(56,5.8)(60,6.4)(64,6.0)(68,6.6)(72,6.2)(76,6.8)(80,7.0)(84,7.2)(88,7.6)(92,8.2)(96,9.6)(100,11.4)(104,12.2)(108,12.4)(112,13.0)(116,13.6)(120,14.6)(124,12.6)(127,11.0)(130,12.0)(134,16.6)(138,18.2)(142,17.4)(146,16.4)(150,16.0)(154,17.6)(158,15.6)(162,15.0)(166,12.6)(170,12.0)(174,12.6)(178,13.2)(182,14.2)(186,13.0)(190,12.0)(194,11.8)(198,11.4)(202,11.0)(206,10.2)(210,9.2)(214,7.6)(218,7.0)(222,6.8)(226,7.0)(230,6.6)(234,6.4)(238,7.2)(242,8.0)(246,9.4)(250,10.0)(254,9.8)(258,9.0)(262,8.2)(266,8.0)(270,7.6)(274,7.4)(278,8.6)(282,10.0)(284,10.4)};
\addplot[lock] coordinates {(217,0)(217,37)};
\end{axis}
%---- legend frame and panel letters
\draw[black, line width=0.9pt] (71pt,3pt) rectangle (687pt,26pt);
\node[anchor=north west, inner sep=0pt, font=\bfseries\fontsize{12}{14}\selectfont] at (2pt,413pt) {(a)};
\node[anchor=north west, inner sep=0pt, font=\bfseries\fontsize{12}{14}\selectfont] at (2pt,218pt) {(b)};
\end{tikzpicture}
\end{document}
